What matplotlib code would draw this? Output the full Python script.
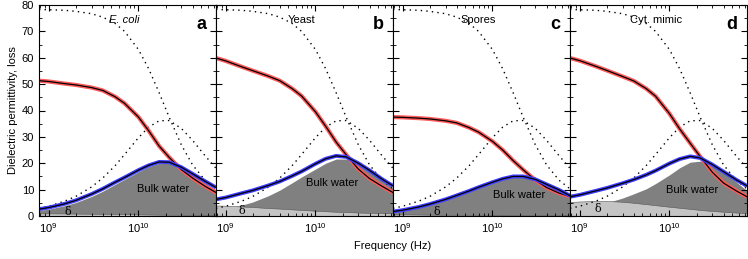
import matplotlib
matplotlib.use("Agg")
import matplotlib.pyplot as plt
import matplotlib.ticker as mtick

plt.rcParams['font.family'] = ['Liberation Sans', 'DejaVu Sans']
plt.rcParams['mathtext.default'] = 'regular'

# frequency grid (Hz) shared by all read-off curves
freq = [0.78e9, 1e9, 1.5e9, 2e9, 3e9, 4e9, 5.5e9, 7e9, 1e10, 1.3e10,
        1.7e10, 2.2e10, 3e10, 4e10, 5.5e10, 7.3e10]

# pure water permittivity / loss (dotted, same in every panel)
water_perm = [78.3, 78.2, 78.0, 77.6, 76.7, 75.4, 73.0, 70.0, 63.1, 55.8,
              46.7, 37.4, 27.0, 19.4, 13.6, 10.3]
water_loss = [2.9, 3.7, 5.6, 7.4, 11.0, 14.4, 19.1, 23.3, 29.7, 33.7,
              36.1, 36.2, 33.2, 28.7, 22.9, 18.1]

names = ['E. coli', 'Yeast', 'Spores', 'Cyt. mimic']
letters = ['a', 'b', 'c', 'd']

perm = [
    [51.3, 51.0, 50.2, 49.7, 48.7, 47.6, 45.2, 42.7, 37.5, 32.3, 26.5, 22.2, 17.6, 14.4, 11.3, 8.9],
    [59.9, 58.8, 56.6, 55.1, 53.0, 51.3, 48.3, 45.5, 39.5, 34.0, 28.0, 23.2, 17.8, 14.2, 11.3, 8.9],
    [37.5, 37.4, 37.1, 36.8, 36.1, 35.3, 33.5, 31.8, 28.3, 25.0, 21.0, 17.5, 13.6, 10.8, 8.7, 7.4],
    [59.9, 58.9, 56.8, 55.2, 52.9, 51.2, 48.3, 45.4, 38.8, 33.0, 27.6, 22.5, 16.6, 12.5, 9.6, 7.3],
]
loss = [
    [2.6, 3.2, 4.6, 5.9, 8.3, 10.3, 12.8, 14.6, 17.4, 19.2, 20.5, 20.4, 18.5, 16.0, 13.2, 10.8],
    [6.3, 7.0, 8.6, 9.7, 11.6, 13.1, 15.2, 16.9, 19.8, 21.7, 22.8, 22.4, 20.0, 17.3, 14.0, 11.4],
    [1.7, 2.2, 3.4, 4.5, 6.3, 7.8, 9.5, 10.9, 12.8, 14.1, 15.0, 15.0, 13.9, 12.0, 9.9, 7.7],
    [7.3, 8.0, 9.5, 10.6, 12.4, 13.8, 15.6, 17.2, 19.9, 21.6, 22.6, 22.0, 19.5, 16.8, 13.8, 11.4],
]
bulk = [
    [2.1, 2.6, 3.9, 5.1, 7.4, 9.4, 12.0, 13.9, 16.8, 18.7, 20.0, 20.0, 18.0, 15.4, 12.5, 9.8],
    [2.2, 2.8, 4.1, 5.3, 7.7, 9.8, 12.6, 14.8, 17.8, 20.0, 21.6, 21.6, 19.6, 16.8, 13.5, 10.6],
    [1.4, 1.9, 3.1, 4.2, 6.0, 7.5, 9.2, 10.6, 12.5, 13.8, 14.7, 14.7, 13.6, 11.7, 9.6, 7.4],
    [2.0, 2.6, 3.9, 5.0, 6.8, 8.4, 10.3, 12.3, 15.6, 18.3, 20.4, 20.8, 19.0, 16.3, 13.0, 9.6],
]
delta = [
    [1.0, 1.0, 0.95, 0.9, 0.85, 0.8, 0.75, 0.7, 0.6, 0.55, 0.5, 0.45, 0.4, 0.35, 0.3, 0.3],
    [4.0, 3.9, 3.6, 3.4, 3.0, 2.8, 2.5, 2.3, 2.0, 1.8, 1.6, 1.5, 1.3, 1.2, 1.1, 1.0],
    [0.6, 0.6, 0.55, 0.5, 0.45, 0.4, 0.4, 0.35, 0.3, 0.3, 0.25, 0.25, 0.2, 0.2, 0.2, 0.2],
    [5.3, 5.5, 5.7, 5.7, 5.4, 5.0, 4.5, 4.1, 3.5, 3.1, 2.7, 2.3, 1.9, 1.6, 1.3, 1.1],
]
delta_pos = [(1.64e9, 1.6), (1.5e9, 2.0), (2.4e9, 1.6), (1.6e9, 2.5)]
bulk_pos = [(1.9e10, 10.2), (1.55e10, 12.6), (2.0e10, 8.0), (1.8e10, 10.0)]

fig = plt.figure(figsize=(7.48, 2.59), dpi=100)
left, width = 39 / 748, 177 / 748
bottom, height = 1 - 216 / 259, 211 / 259

for i in range(4):
    ax = fig.add_axes([left + i * width, bottom, width, height])
    ax.fill_between(freq, 0, bulk[i], color='#808080', lw=0)
    ax.fill_between(freq, 0, delta[i], facecolor='#c4c4c4', edgecolor='#555555', lw=0.4)
    ax.plot(freq, water_perm, color='black', ls=(0, (1, 3)), lw=1)
    ax.plot(freq, water_loss, color='black', ls=(0, (1, 3)), lw=1)
    ax.plot(freq, perm[i], color='#ff5a5a', lw=3.0, solid_capstyle='butt')
    ax.plot(freq, perm[i], color='black', lw=0.9)
    ax.plot(freq, loss[i], color='#3c3cff', lw=2.8, solid_capstyle='butt')
    ax.plot(freq, loss[i], color='black', lw=0.9)

    ax.set_xscale('log')
    ax.set_xlim(7.8e8, 7.3e10)
    ax.set_ylim(0, 80)
    ax.yaxis.set_major_locator(mtick.MultipleLocator(10))
    ax.yaxis.set_minor_locator(mtick.MultipleLocator(5))
    ax.tick_params(which='both', direction='in', top=True, right=True, labelsize=8)
    ax.tick_params(which='major', length=4)
    ax.tick_params(which='minor', length=2)
    if i > 0:
        ax.tick_params(labelleft=False)

    style = 'italic' if i == 0 else 'normal'
    ax.text(7e9, 74.5, names[i], ha='center', va='center', fontsize=8, style=style)
    ax.text(5e10, 72.5, letters[i], ha='center', va='center', fontsize=13, weight='bold')
    ax.text(bulk_pos[i][0], bulk_pos[i][1], 'Bulk water', ha='center', va='center', fontsize=8)
    ax.text(delta_pos[i][0], delta_pos[i][1], 'δ', ha='center', va='center', fontsize=8,
            family='DejaVu Serif')
    if i == 0:
        ax.set_ylabel('Dielectric permittivity, loss', fontsize=8, labelpad=3)

fig.text(0.525, 0.05, 'Frequency (Hz)', ha='center', va='center', fontsize=8)

plt.savefig('out.png', dpi=100)
